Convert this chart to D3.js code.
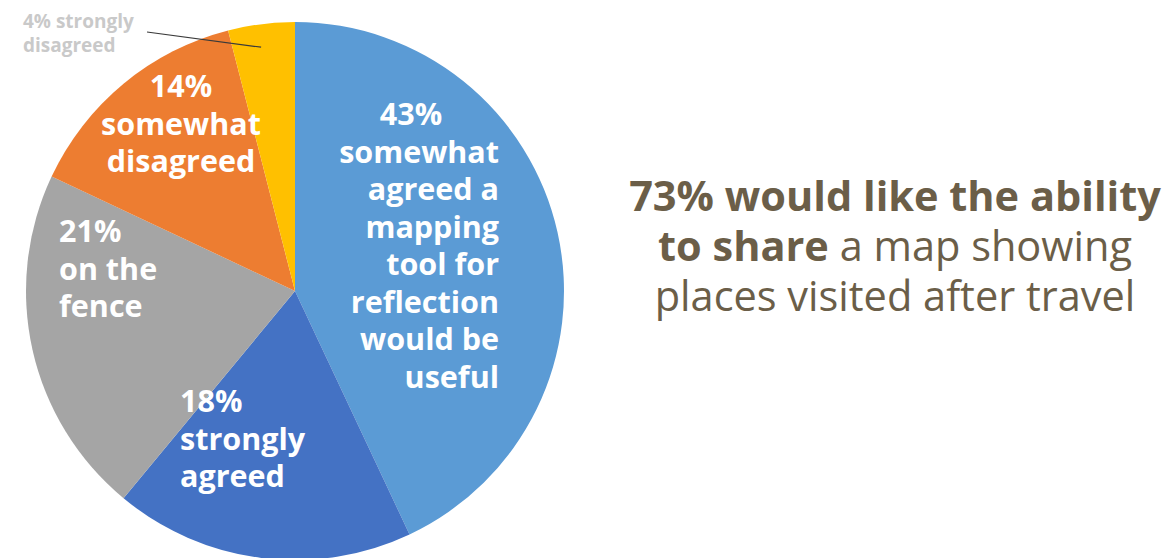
<!DOCTYPE html>
<html>
<head>
<meta charset="utf-8">
<script src="https://cdn.jsdelivr.net/npm/d3@7/dist/d3.min.js"></script>
<style>
  html, body { margin: 0; padding: 0; background: #ffffff; }
  svg { display: block; font-family: "Open Sans", "Noto Sans", sans-serif; }
</style>
</head>
<body>
<svg id="chart" width="1167" height="558"></svg>
<script>
// Survey responses, clockwise from 12 o'clock
const categories = ["somewhat agreed", "strongly agreed", "on the fence", "somewhat disagreed", "strongly disagreed"];
const values = [43, 18, 21, 14, 4];
const colors = ["#5B9BD5", "#4472C4", "#A5A5A5", "#ED7D31", "#FFC000"];

// Slice label text, one array of lines per slice
const labelLines = [
  ["43%", "somewhat", "agreed a", "mapping", "tool for", "reflection", "would be", "useful"],
  ["18%", "strongly", "agreed"],
  ["21%", "on the", "fence"],
  ["14%", "somewhat", "disagreed"],
  ["4% strongly", "disagreed"]
];

// Headline on the right: [text, bold] runs per line
const headline = [
  [["73% would like the ability", true]],
  [["to share", true], [" a map showing", false]],
  [["places visited after travel", false]]
];

const svg = d3.select("#chart");
const cx = 295, cy = 291, R = 269;

const pie = d3.pie().sort(null).value(d => d).startAngle(0).endAngle(2 * Math.PI);
const arc = d3.arc().innerRadius(0).outerRadius(R);
const arcs = pie(values);

const g = svg.append("g").attr("transform", `translate(${cx},${cy})`);
g.selectAll("path.slice")
  .data(arcs)
  .join("path")
  .attr("class", "slice")
  .attr("d", arc)
  .attr("fill", (d, i) => colors[i]);

// Label placement: anchor point (relative to pie centre), alignment
const labelLayout = [
  { x: 204, y: -166, anchor: "end", firstAnchor: "middle", firstX: 116 },
  { x: -115, y: 121, anchor: "start" },
  { x: -236, y: -49, anchor: "start" },
  { x: -114, y: -194, anchor: "middle" },
  { x: -272, y: -263, anchor: "start", small: true }
];

labelLines.forEach((lines, i) => {
  const L = labelLayout[i];
  const small = !!L.small;
  const lh = small ? 24 : 37.5;
  const t = g.append("text")
    .attr("fill", small ? "#c9c9c9" : "#ffffff")
    .attr("font-weight", 700)
    .attr("font-size", small ? 19 : 30.5);
  lines.forEach((line, j) => {
    const first = j === 0 && L.firstAnchor;
    t.append("tspan")
      .attr("x", first ? L.firstX : L.x)
      .attr("y", L.y + j * lh)
      .attr("text-anchor", first ? L.firstAnchor : L.anchor)
      .text(line);
  });
});

// Leader line from the small label into the yellow slice
const yellow = arcs[4];
const midA = yellow.startAngle + (yellow.endAngle - yellow.startAngle) * 0.45;
const inner = R * 0.915;
g.append("line")
  .attr("x1", -148)
  .attr("y1", -259)
  .attr("x2", inner * Math.sin(midA))
  .attr("y2", -inner * Math.cos(midA))
  .attr("stroke", "#3a3a3a")
  .attr("stroke-width", 1.2);

// Headline text block
const hx = 895, hy0 = 211, hlh = 50;
const ht = svg.append("text")
  .attr("text-anchor", "middle")
  .attr("fill", "#6b5e48")
  .attr("font-size", 41.5);
headline.forEach((runs, j) => {
  const line = ht.append("tspan").attr("x", hx).attr("y", hy0 + j * hlh);
  runs.forEach(([txt, bold], k) => {
    const s = k === 0 ? line : ht.append("tspan");
    s.attr("font-weight", bold ? 700 : 400).text(txt);
  });
});
</script>
</body>
</html>
